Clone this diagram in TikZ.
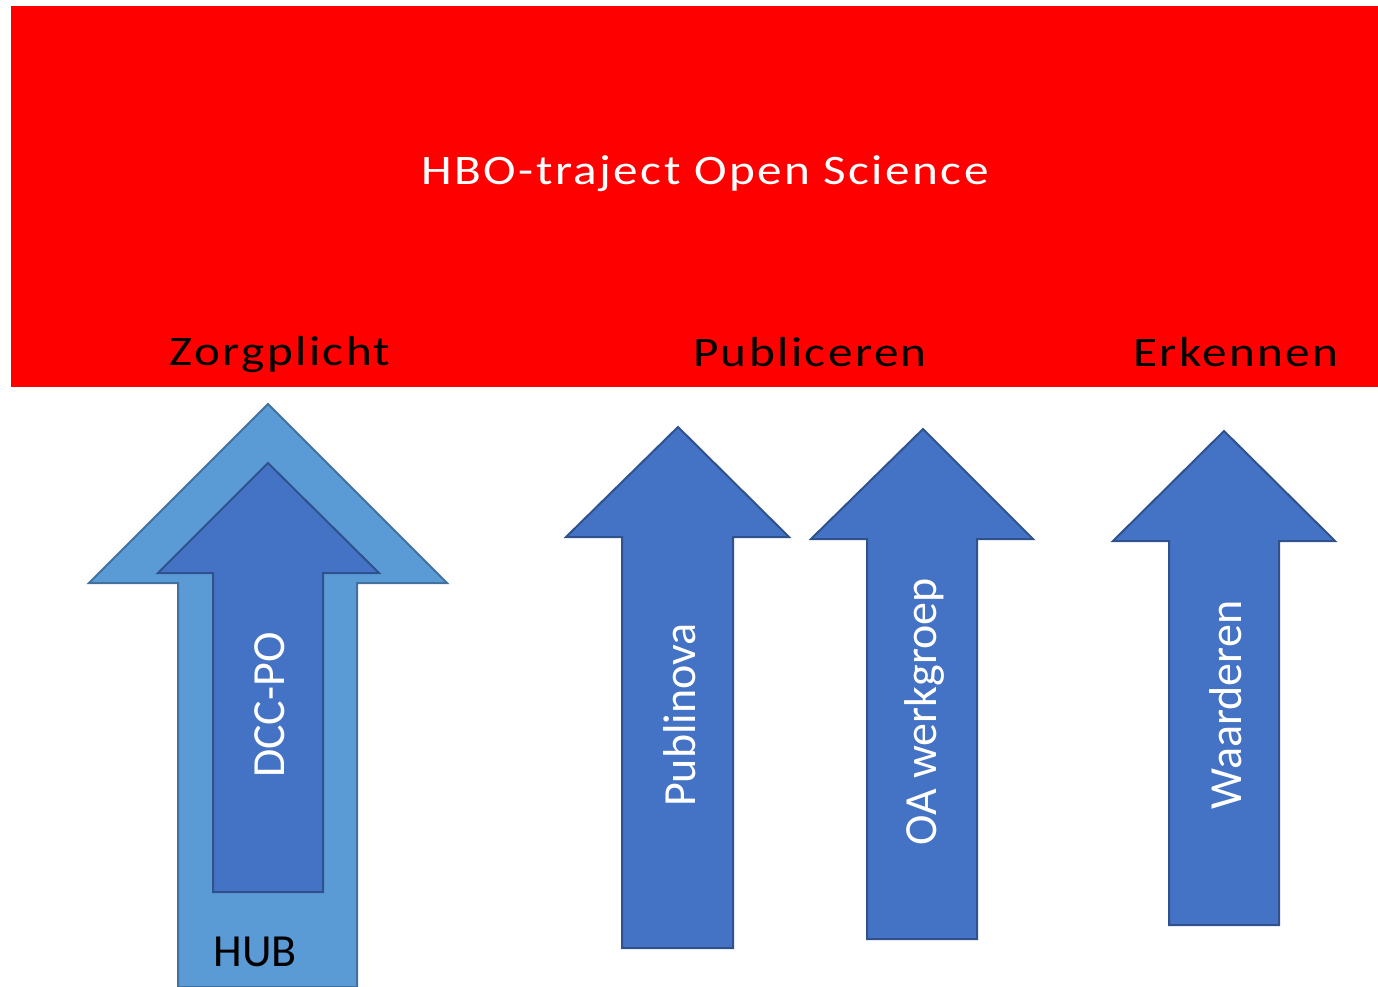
\documentclass[tikz,border=0pt]{standalone}
\usepackage{fontspec}
\setmainfont{Carlito}
\newfontfamily\spaced[LetterSpace=5]{Carlito}
\newcommand\widetext[1]{\scalebox{1.17}[1]{#1}}
\definecolor{lblue}{HTML}{5B9BD5}
\definecolor{lbluedge}{HTML}{41719C}
\definecolor{dblue}{HTML}{4472C4}
\definecolor{dbluedge}{HTML}{2F528F}
\begin{document}
\begin{tikzpicture}[x=0.75pt,y=-0.75pt,
  outerarrow/.style={fill=lblue,draw=lbluedge,line width=1.5pt,line join=miter},
  innerarrow/.style={fill=dblue,draw=dbluedge,line width=1.5pt,line join=miter},
  title/.style={font=\spaced\fontsize{31.5}{36}\selectfont,inner sep=0pt,anchor=base},
  vlabel/.style={font=\fontsize{34.5}{40}\selectfont,text=white,rotate=90,inner sep=0pt}]
\useasboundingbox (0,0) rectangle (1378,987);
% red banner
\fill[red] (11,6) rectangle (1378,387);
\node[title,text=white] (ttl) at (705,185) {\widetext{HBO-traject Open Science}};
\node[title,text=black] (zorg) at (280,366) {\widetext{Zorgplicht}};
\node[title,text=black] (publ) at (810,367) {\widetext{Publiceren}};
\node[title,text=black] (erk) at (1236,367) {\widetext{Erkennen}};
% HUB arrow
\draw[outerarrow] (268,404) -- (447,583) -- (357,583) -- (357,987) -- (178,987) -- (178,583) -- (89,583) -- cycle;
% DCC-PO arrow
\draw[innerarrow] (268,463) -- (379,573) -- (323,573) -- (323,892) -- (213,892) -- (213,573) -- (158,573) -- cycle;
% Publinova
\draw[innerarrow] (678,427) -- (789,537) -- (733,537) -- (733,948) -- (622,948) -- (622,537) -- (566,537) -- cycle;
% OA werkgroep
\draw[innerarrow] (923,429) -- (1033,539) -- (977,539) -- (977,939) -- (867,939) -- (867,539) -- (811,539) -- cycle;
% Waarderen
\draw[innerarrow] (1224,431) -- (1335,541) -- (1279,541) -- (1279,925) -- (1169,925) -- (1169,541) -- (1113,541) -- cycle;
\node[vlabel] (dcc) at (270,705) {DCC-PO};
\node[vlabel] (pub) at (680,715) {Publinova};
\node[vlabel] (oa) at (924,712) {OA werkgroep};
\node[vlabel] (waa) at (1226,705) {Waarderen};
\node[font=\fontsize{34.5}{40}\selectfont,inner sep=0pt] (hub) at (255,952) {HUB};
\end{tikzpicture}
\end{document}
